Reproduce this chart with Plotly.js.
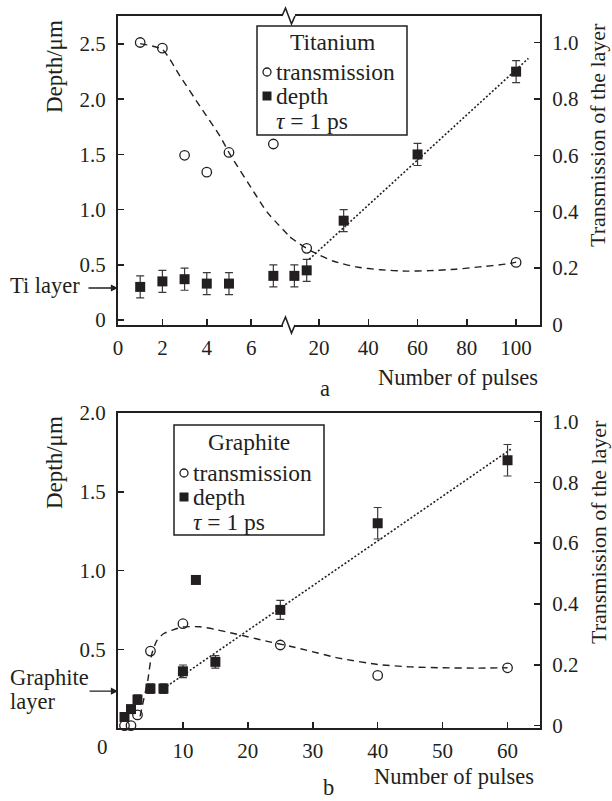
<!DOCTYPE html>
<html>
<head>
<meta charset="utf-8">
<script src="https://cdn.plot.ly/plotly-3.0.1.min.js"></script>
<style>html,body{margin:0;padding:0;background:#fff}#chart{width:612px;height:801px}</style>
</head>
<body>
<div id="chart"></div>
<script>
// ---------- Data (a) Titanium ----------
const tiBreak = 8; // axis break in number of pulses
const tiDepthX   = [1, 2, 3, 4, 5, 7, 10, 15, 30, 60, 100];
const tiDepthY   = [0.30, 0.35, 0.37, 0.33, 0.33, 0.40, 0.40, 0.45, 0.90, 1.50, 2.25];
const tiDepthErr = [0.1, 0.1, 0.1, 0.1, 0.1, 0.1, 0.1, 0.1, 0.1, 0.1, 0.1];
const tiTransX   = [1, 2, 3, 4, 5, 7, 15, 100];
const tiTransY   = [1.00, 0.98, 0.60, 0.54, 0.61, 0.64, 0.27, 0.22];
const tiTransFitX = [1, 2, 2.8, 3.7, 4.6, 5.05, 6.2, 6.7, 7.75, 8.22, 12.3, 15.5, 20, 25.7, 35, 45, 55.3, 65, 75.6, 85, 95.9, 100];
const tiTransFitY = [0.996, 0.975, 0.88, 0.773, 0.667, 0.603, 0.46, 0.40, 0.31, 0.31, 0.285, 0.267, 0.247, 0.225, 0.204, 0.194, 0.189, 0.191, 0.196, 0.204, 0.214, 0.221];
const tiDepthFitX = [16, 105];
const tiDepthFitY = [0.55, 2.37];
const tiLayerDepth = 0.29;

// ---------- Data (b) Graphite ----------
const grDepthX   = [1, 2, 3, 5, 7, 10, 12, 15, 25, 40, 60];
const grDepthY   = [0.07, 0.12, 0.18, 0.25, 0.25, 0.36, 0.94, 0.42, 0.75, 1.30, 1.70];
const grDepthErr = [0.02, 0.02, 0.03, 0.03, 0.03, 0.04, 0, 0.04, 0.06, 0.1, 0.1];
const grTransX   = [1, 2, 3, 5, 10, 25, 40, 60];
const grTransY   = [0.0, 0.0, 0.035, 0.245, 0.335, 0.265, 0.165, 0.19];
const grTransFitX = [3.4, 3.9, 4.6, 5.2, 6, 7, 8.5, 10, 12.6, 15, 18, 23, 26.5, 29, 34, 40, 45, 50, 55, 60];
const grTransFitY = [0.03, 0.08, 0.15, 0.235, 0.28, 0.302, 0.315, 0.324, 0.325, 0.316, 0.302, 0.277, 0.261, 0.248, 0.222, 0.201, 0.193, 0.19, 0.189, 0.19];
const grDepthFitX = [7, 60.5];
const grDepthFitY = [0.25, 1.77];
const grLayerDepth = 0.234;

// ---------- Style ----------
const W = 612, H = 801;
const INK = '#231f20';
const FONT = 'Liberation Serif, Times New Roman, serif';
const px = x => x / W;
const py = y => 1 - y / H;

function pick(xs, arr, cond) { return arr.filter((v, i) => cond(xs[i])); }
const L = x => x < tiBreak, R = x => x >= tiBreak;

const sqMarker = {symbol: 'square', size: 10, color: INK, line: {width: 0}};
const ciMarker = {symbol: 'circle-open', size: 9.5, color: INK, line: {width: 1.3, color: INK}};
const errStyle = arr => ({type: 'data', array: arr, visible: true, color: '#3a3a3a', thickness: 1.2, width: 4});
const dashLine = {color: INK, width: 1.4, dash: '7px,5px', shape: 'spline', smoothing: 0.6};
const dotLine  = {color: INK, width: 1.6, dash: '2px,2px'};

const traces = [
  // (a) fits
  {x: pick(tiTransFitX, tiTransFitX, L), y: pick(tiTransFitX, tiTransFitY, L), xaxis: 'x', yaxis: 'y2', mode: 'lines', line: dashLine},
  {x: pick(tiTransFitX, tiTransFitX, R), y: pick(tiTransFitX, tiTransFitY, R), xaxis: 'x2', yaxis: 'y2', mode: 'lines', line: dashLine},
  {x: tiDepthFitX, y: tiDepthFitY, xaxis: 'x2', yaxis: 'y', mode: 'lines', line: dotLine},
  // (a) depth
  {x: pick(tiDepthX, tiDepthX, L), y: pick(tiDepthX, tiDepthY, L), error_y: errStyle(pick(tiDepthX, tiDepthErr, L)), xaxis: 'x', yaxis: 'y', mode: 'markers', marker: sqMarker},
  {x: pick(tiDepthX, tiDepthX, R), y: pick(tiDepthX, tiDepthY, R), error_y: errStyle(pick(tiDepthX, tiDepthErr, R)), xaxis: 'x2', yaxis: 'y', mode: 'markers', marker: sqMarker},
  // (a) transmission
  {x: pick(tiTransX, tiTransX, L), y: pick(tiTransX, tiTransY, L), xaxis: 'x', yaxis: 'y2', mode: 'markers', marker: ciMarker},
  {x: pick(tiTransX, tiTransX, R), y: pick(tiTransX, tiTransY, R), xaxis: 'x2', yaxis: 'y2', mode: 'markers', marker: ciMarker},
  // (b)
  {x: grTransFitX, y: grTransFitY, xaxis: 'x3', yaxis: 'y4', mode: 'lines', line: dashLine},
  {x: grDepthFitX, y: grDepthFitY, xaxis: 'x3', yaxis: 'y3', mode: 'lines', line: dotLine},
  {x: grDepthX, y: grDepthY, error_y: errStyle(grDepthErr), xaxis: 'x3', yaxis: 'y3', mode: 'markers', marker: sqMarker},
  {x: grTransX, y: grTransY, xaxis: 'x3', yaxis: 'y4', mode: 'markers', marker: ciMarker}
];
traces.forEach(t => { t.showlegend = false; t.hoverinfo = 'skip'; t.cliponaxis = false; });

const axBase = {
  showline: true, linecolor: INK, linewidth: 2, showgrid: false, zeroline: false,
  ticks: 'inside', ticklen: 6, tickwidth: 1.5, tickcolor: INK,
  tickfont: {family: FONT, size: 21, color: INK}, fixedrange: true
};
const topDom = [py(325), py(16)];
const botDom = [py(728), py(413)];
const f1 = v => v === 0 ? '0' : v.toFixed(1);

const layout = {
  width: W, height: H,
  margin: {l: 0, r: 0, t: 0, b: 0, pad: 0},
  paper_bgcolor: '#fff', plot_bgcolor: 'rgba(0,0,0,0)',
  font: {family: FONT, size: 21, color: INK},
  showlegend: false, hovermode: false,
  xaxis: Object.assign({}, axBase, {domain: [px(118), px(290)], range: [0, 7.75], anchor: 'y', mirror: true,
    tickvals: [0, 2, 4, 6], ticktext: ['0', '2', '4', '6'], ticklabelstandoff: 3}),
  xaxis2: Object.assign({}, axBase, {domain: [px(290), px(540)], range: [8.22, 109.7], anchor: 'y', mirror: true,
    tickvals: [20, 40, 60, 80, 100], ticktext: ['20', '40', '60', '80', '100'], ticklabelstandoff: 3}),
  yaxis: Object.assign({}, axBase, {domain: topDom, range: [-0.045, 2.754], anchor: 'x', side: 'left',
    tickvals: [0, 0.5, 1, 1.5, 2, 2.5], ticktext: [0, 0.5, 1, 1.5, 2, 2.5].map(f1), ticklabelstandoff: 6}),
  yaxis2: Object.assign({}, axBase, {range: [-0.002, 1.094], anchor: 'x2', side: 'right', overlaying: 'y',
    tickvals: [0, 0.2, 0.4, 0.6, 0.8, 1.0], ticktext: [0, 0.2, 0.4, 0.6, 0.8, 1.0].map(f1), ticklabelstandoff: 6}),
  xaxis3: Object.assign({}, axBase, {domain: [px(118), px(540)], range: [0, 65], anchor: 'y3', mirror: true,
    tickvals: [10, 20, 30, 40, 50, 60], ticktext: ['10', '20', '30', '40', '50', '60'], ticklabelstandoff: 3}),
  yaxis3: Object.assign({}, axBase, {domain: botDom, range: [0, 2.0], anchor: 'x3', side: 'left',
    tickvals: [0.5, 1, 1.5, 2], ticktext: [0.5, 1, 1.5, 2].map(f1), ticklabelstandoff: 6}),
  yaxis4: Object.assign({}, axBase, {range: [-0.008, 1.028], anchor: 'x3', side: 'right', overlaying: 'y3',
    tickvals: [0, 0.2, 0.4, 0.6, 0.8, 1.0], ticktext: [0, 0.2, 0.4, 0.6, 0.8, 1.0].map(f1), ticklabelstandoff: 6}),
  shapes: [],
  annotations: []
};

// ---------- helpers for text & decorations ----------
function txt(text, x, y, o) {
  layout.annotations.push(Object.assign({
    text: text, x: px(x), y: py(y), xref: 'paper', yref: 'paper',
    showarrow: false, xanchor: 'center', yanchor: 'middle', borderpad: 0,
    font: {family: FONT, size: 23, color: INK}
  }, o || {}));
}
function pathPx(pts) {
  return pts.map((p, i) => (i ? 'L' : 'M') + px(p[0]).toFixed(5) + ',' + py(p[1]).toFixed(5)).join(' ');
}

// axis titles
txt('Depth/μm', 55, 67, {textangle: -90, font: {family: FONT, size: 23, color: INK}});
txt('Transmission of the layer', 598, 135, {textangle: -90, font: {family: FONT, size: 22, color: INK}});
txt('Number of pulses', 458, 377, {font: {family: FONT, size: 22.5, color: INK}});
txt('a', 325, 388, {font: {family: FONT, size: 22.5, color: INK}});
txt('Depth/μm', 54, 463, {textangle: -90, font: {family: FONT, size: 23, color: INK}});
txt('Transmission of the layer', 598, 532, {textangle: -90, font: {family: FONT, size: 22, color: INK}});
txt('Number of pulses', 454, 776, {font: {family: FONT, size: 22.5, color: INK}});
txt('b', 328, 787, {font: {family: FONT, size: 22.5, color: INK}});
txt('0', 102, 747, {font: {family: FONT, size: 21, color: INK}});

// layer markers with arrows
txt('Ti layer', 45, 285, {font: {family: FONT, size: 22.5, color: INK}});
layout.annotations.push({x: 0, y: tiLayerDepth, xref: 'x', yref: 'y', text: '', showarrow: true,
  ax: -31, ay: 0, axref: 'pixel', ayref: 'pixel', arrowhead: 2, arrowsize: 1.1, arrowwidth: 1.3, arrowcolor: INK, standoff: 0});
txt('Graphite', 9, 677, {xanchor: 'left', font: {family: FONT, size: 22.5, color: INK}});
txt('layer', 9, 701, {xanchor: 'left', font: {family: FONT, size: 22.5, color: INK}});
layout.annotations.push({x: 0, y: grLayerDepth, xref: 'x3', yref: 'y3', text: '', showarrow: true,
  ax: -30, ay: 0, axref: 'pixel', ayref: 'pixel', arrowhead: 2, arrowsize: 1.1, arrowwidth: 1.3, arrowcolor: INK, standoff: 0});

// legends (box, symbols, text)
function legendBox(x0, y0, x1, y1, title, rows) {
  layout.shapes.push({type: 'rect', xref: 'paper', yref: 'paper', x0: px(x0), x1: px(x1), y0: py(y1), y1: py(y0),
    line: {color: INK, width: 1.5}, fillcolor: '#fff', layer: 'above'});
  txt(title, (x0 + x1) / 2, rows[0], {font: {family: FONT, size: 23.5, color: INK}});
  const sx = x0 + 10, tx = x0 + 18;
  layout.shapes.push({type: 'circle', xref: 'paper', yref: 'paper', xsizemode: 'pixel', ysizemode: 'pixel',
    xanchor: px(sx), yanchor: py(rows[1]), x0: -4, x1: 4, y0: -4, y1: 4, line: {color: INK, width: 1.3}, layer: 'above'});
  layout.shapes.push({type: 'rect', xref: 'paper', yref: 'paper', xsizemode: 'pixel', ysizemode: 'pixel',
    xanchor: px(sx), yanchor: py(rows[2]), x0: -4.5, x1: 4.5, y0: -4.5, y1: 4.5, line: {width: 0}, fillcolor: INK, layer: 'above'});
  txt('transmission', tx, rows[1], {xanchor: 'left', font: {family: FONT, size: 23.5, color: INK}});
  txt('depth', tx, rows[2], {xanchor: 'left', font: {family: FONT, size: 23.5, color: INK}});
  txt('<i>τ</i> = 1 ps', tx, rows[3], {xanchor: 'left', font: {family: FONT, size: 23.5, color: INK}});
}
legendBox(257, 26, 407, 135, 'Titanium', [42, 72, 96, 121]);
legendBox(174, 425, 324, 535, 'Graphite', [442, 473, 497, 522]);

// axis break marks (top panel)
[325, 16].forEach(yy => {
  layout.shapes.push({type: 'line', xref: 'paper', yref: 'paper', x0: px(283), x1: px(295), y0: py(yy), y1: py(yy),
    line: {color: '#fff', width: 4}, layer: 'above'});
  layout.shapes.push({type: 'path', xref: 'paper', yref: 'paper',
    path: pathPx([[282, yy], [285.5, yy - 8], [291.5, yy + 8], [295, yy]]),
    line: {color: INK, width: 1.6}, layer: 'above'});
});

Plotly.newPlot('chart', traces, layout, {staticPlot: true, displayModeBar: false});
</script>
</body>
</html>
